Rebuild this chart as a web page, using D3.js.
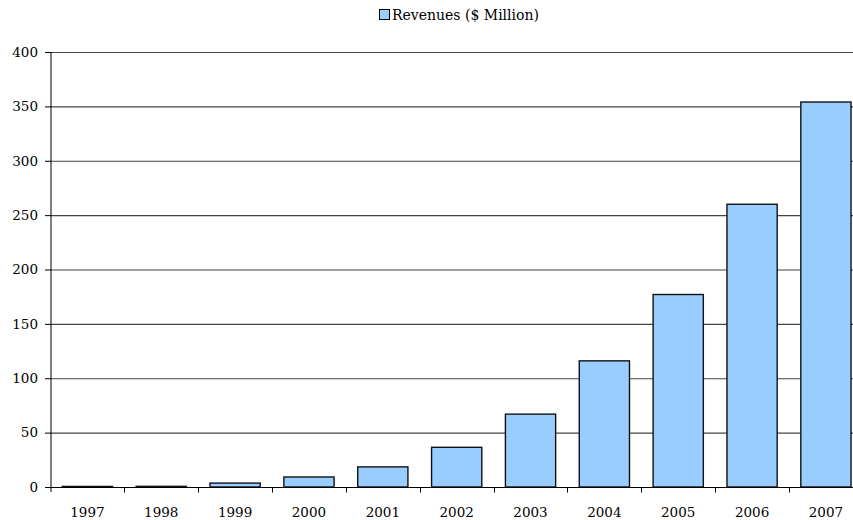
<!DOCTYPE html>
<html>
<head>
<meta charset="utf-8">
<script src="https://cdn.jsdelivr.net/npm/d3@7"></script>
<style>
  html, body { margin: 0; padding: 0; background: #fff; }
  svg { display: block; }
  text { font-family: "DejaVu Serif", serif; fill: #000; }
</style>
</head>
<body>
<svg id="chart" width="853" height="520"></svg>
<script>
// Annual revenues, $ million
const years = ["1997", "1998", "1999", "2000", "2001", "2002", "2003", "2004", "2005", "2006", "2007"];
const revenues = [0.5, 0.6, 3.6, 9.2, 18.5, 36.5, 67, 116, 177, 260, 354];
const yTicks = [0, 50, 100, 150, 200, 250, 300, 350, 400];
const seriesName = "Revenues ($ Million)";

const svg = d3.select("#chart");
const plotLeft = 50.5, plotTop = 52, plotBottom = 487, bandW = 73.85;
const plotRight = plotLeft + bandW * years.length;

const x = d3.scaleBand().domain(years).range([plotLeft, plotRight]).paddingInner(0.32).paddingOuter(0.16);
const y = d3.scaleLinear().domain([0, 400]).range([plotBottom, plotTop]);

// horizontal gridlines
svg.append("g").selectAll("line").data(yTicks.filter(d => d > 0)).join("line")
  .attr("x1", plotLeft).attr("x2", plotRight)
  .attr("y1", d => y(d) + 0.5).attr("y2", d => y(d) + 0.5)
  .attr("stroke", "#444").attr("stroke-width", 1.1);

// bars
svg.append("g").selectAll("rect").data(years).join("rect")
  .attr("x", d => x(d))
  .attr("width", x.bandwidth())
  .attr("y", (d, i) => y(revenues[i]))
  .attr("height", (d, i) => plotBottom - y(revenues[i]))
  .attr("fill", "#99ccff")
  .attr("stroke", "#111")
  .attr("stroke-width", 1.4);

// y axis
const yAxis = svg.append("g").attr("transform", `translate(${plotLeft + 0.5},0)`)
  .call(d3.axisLeft(y).tickValues(yTicks).tickSizeInner(6).tickSizeOuter(0).tickPadding(7));
yAxis.select(".domain").attr("stroke", "#000").attr("d", `M0,${plotTop}V${plotBottom + 5}`);
yAxis.selectAll(".tick line").attr("stroke", "#000");
yAxis.selectAll("text").style("font-size", "13.5px").style("font-family", "DejaVu Serif");

// x axis with ticks on category boundaries
const xg = svg.append("g").attr("transform", `translate(0,${plotBottom + 0.5})`);
xg.append("line").attr("x1", plotLeft).attr("x2", plotRight).attr("stroke", "#000");
xg.selectAll("line.b").data(d3.range(1, years.length)).join("line").attr("class", "b")
  .attr("x1", i => Math.round(plotLeft + i * bandW) + 0.5).attr("x2", i => Math.round(plotLeft + i * bandW) + 0.5)
  .attr("y1", 0).attr("y2", 5).attr("stroke", "#000");
xg.selectAll("text").data(years).join("text")
  .attr("x", d => x(d) + x.bandwidth() / 2)
  .attr("y", 29)
  .attr("text-anchor", "middle")
  .style("font-size", "13.5px")
  .text(d => d);

// legend
const lg = svg.append("g").attr("transform", "translate(379,9)");
lg.append("rect").attr("x", 0.5).attr("y", 0.5).attr("width", 10).attr("height", 10)
  .attr("fill", "#99ccff").attr("stroke", "#000");
lg.append("text").attr("x", 13).attr("y", 10.5).style("font-size", "14px").text(seriesName);
</script>
</body>
</html>
